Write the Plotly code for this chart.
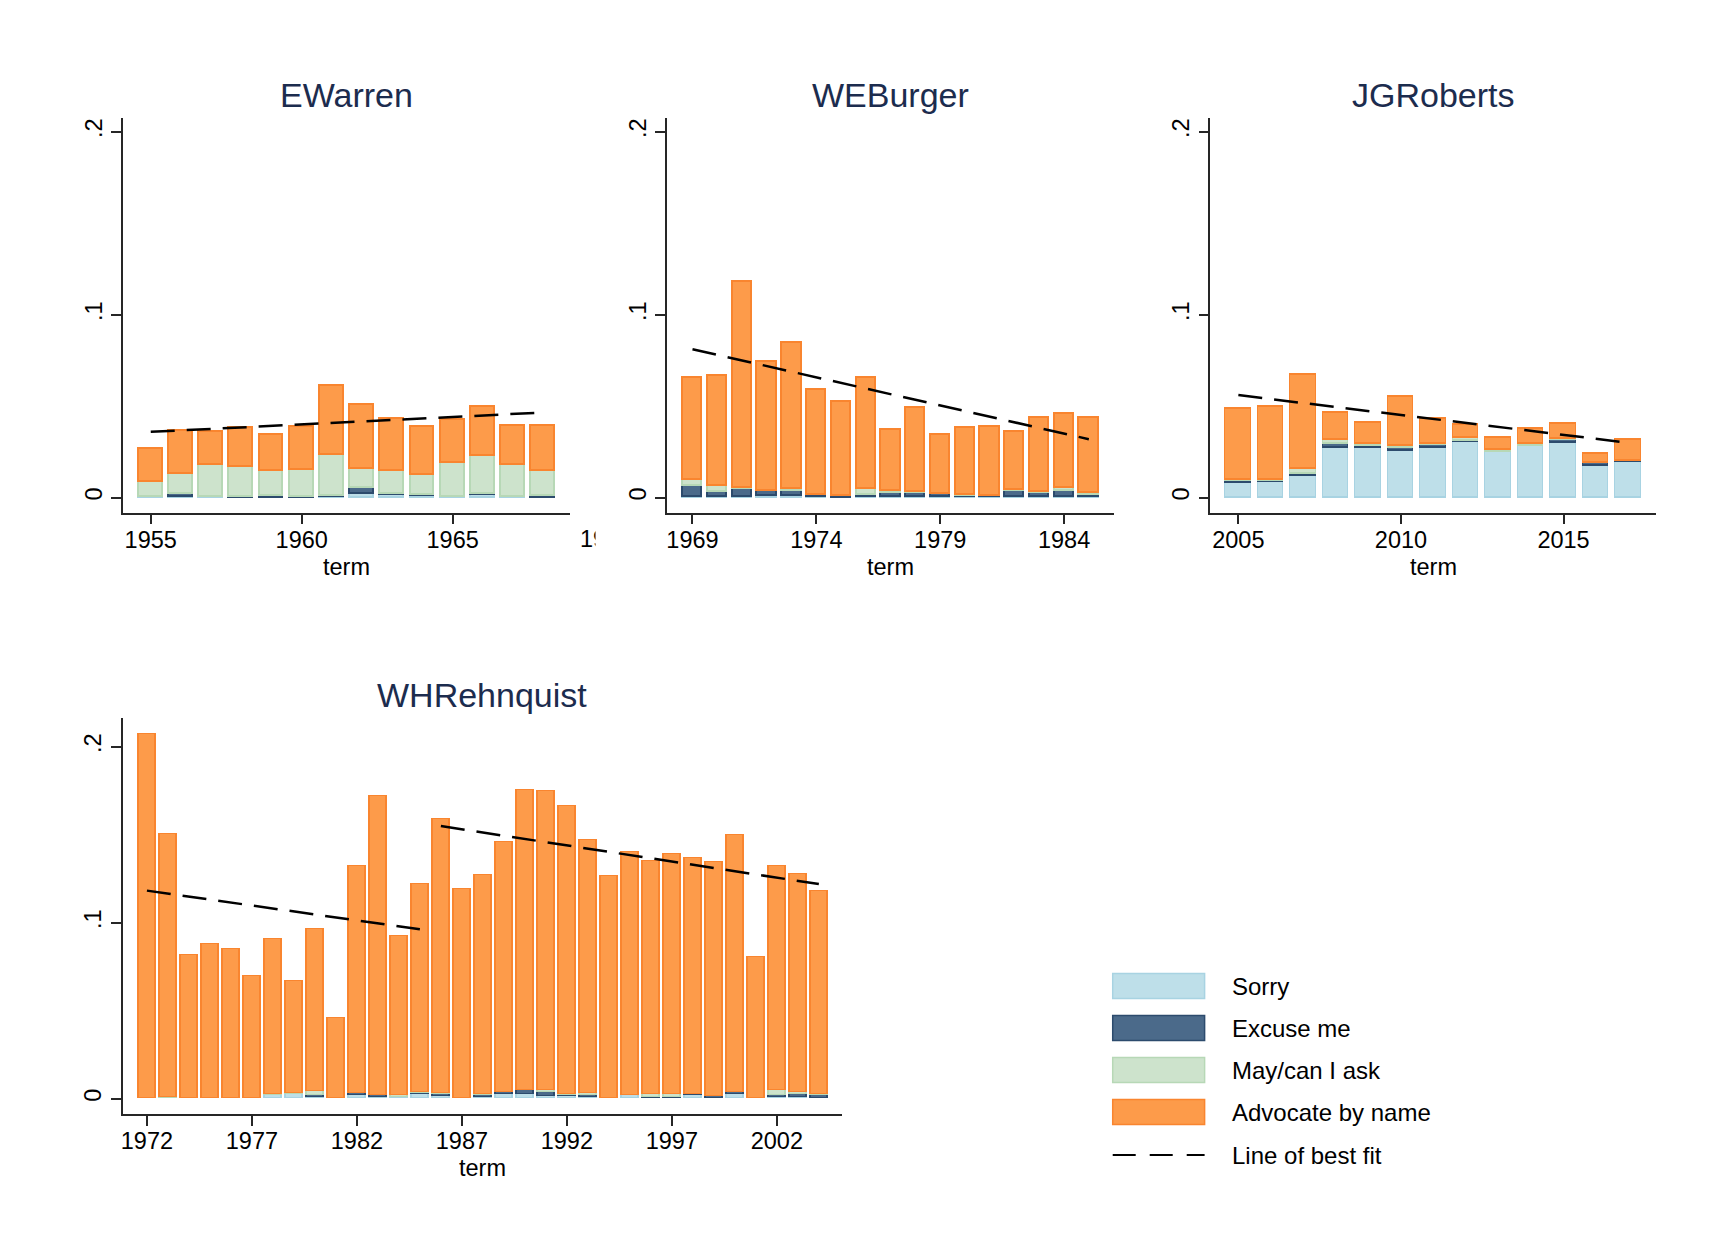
import plotly.graph_objects as go

# page body has an 8 px margin, so the figure is sized to fit inside the window
OFF = 8
W, H = 1732 - 2 * OFF, 1260 - 2 * OFF

# ---------------- data ----------------
series_names = ["Sorry", "Excuse me", "May/can I ask", "Advocate by name"]
fill_colors = ["#bedfe9", "#4b6a8a", "#cde3cc", "#fd9b4a"]
edge_colors = ["#a8d3e2", "#2c4b6d", "#b7d8b6", "#f9852f"]
fit_name = "Line of best fit"

warren_terms = list(range(1955, 1969))
warren_sorry = [0.0005, 0.0004, 0.0002, 0.0000, 0.0000, 0.0000, 0.0003, 0.0020, 0.0015, 0.0009, 0.0002, 0.0015, 0.0003, 0.0000]
warren_excuse = [0.0000, 0.0015, 0.0005, 0.0004, 0.0008, 0.0004, 0.0005, 0.0035, 0.0007, 0.0007, 0.0005, 0.0007, 0.0000, 0.0012]
warren_may = [0.0084, 0.0112, 0.0173, 0.0164, 0.0141, 0.0149, 0.0224, 0.0104, 0.0127, 0.0110, 0.0186, 0.0204, 0.0177, 0.0137]
warren_advocate = [0.0179, 0.0235, 0.0179, 0.0213, 0.0196, 0.0237, 0.0379, 0.0346, 0.0283, 0.0261, 0.0230, 0.0270, 0.0212, 0.0243]
warren_fit_x = [1955, 1968]
warren_fit_y = [0.0359, 0.0465]

burger_terms = list(range(1969, 1986))
burger_sorry = [0.0004, 0.0002, 0.0004, 0.0011, 0.0009, 0.0004, 0.0001, 0.0005, 0.0007, 0.0004, 0.0007, 0.0002, 0.0002, 0.0002, 0.0002, 0.0002, 0.0002]
burger_excuse = [0.0058, 0.0031, 0.0043, 0.0024, 0.0031, 0.0009, 0.0007, 0.0010, 0.0019, 0.0025, 0.0013, 0.0009, 0.0009, 0.0034, 0.0022, 0.0038, 0.0013]
burger_may = [0.0033, 0.0034, 0.0008, 0.0005, 0.0011, 0.0002, 0.0001, 0.0034, 0.0010, 0.0004, 0.0002, 0.0007, 0.0000, 0.0008, 0.0009, 0.0015, 0.0011]
burger_advocate = [0.0561, 0.0600, 0.1126, 0.0704, 0.0797, 0.0576, 0.0514, 0.0607, 0.0336, 0.0457, 0.0319, 0.0363, 0.0376, 0.0315, 0.0405, 0.0404, 0.0412]
burger_fit_x = [1969, 1985]
burger_fit_y = [0.0811, 0.0319]

roberts_terms = list(range(2005, 2018))
roberts_sorry = [0.0080, 0.0084, 0.0119, 0.0272, 0.0275, 0.0257, 0.0272, 0.0303, 0.0252, 0.0283, 0.0299, 0.0173, 0.0195]
roberts_excuse = [0.0010, 0.0007, 0.0012, 0.0020, 0.0011, 0.0013, 0.0016, 0.0007, 0.0000, 0.0000, 0.0018, 0.0015, 0.0007]
roberts_may = [0.0005, 0.0009, 0.0026, 0.0025, 0.0006, 0.0014, 0.0007, 0.0015, 0.0007, 0.0009, 0.0004, 0.0002, 0.0002]
roberts_advocate = [0.0390, 0.0396, 0.0516, 0.0148, 0.0116, 0.0270, 0.0135, 0.0072, 0.0066, 0.0085, 0.0082, 0.0047, 0.0113]
roberts_fit_x = [2005, 2017]
roberts_fit_y = [0.0560, 0.0299]

rehnquist_terms = list(range(1972, 2005))
rehnquist_sorry = [0.0000, 0.0000, 0.0000, 0.0000, 0.0000, 0.0000, 0.0021, 0.0025, 0.0008, 0.0000, 0.0019,
                   0.0009, 0.0009, 0.0023, 0.0015, 0.0000, 0.0006, 0.0027, 0.0027, 0.0011, 0.0011, 0.0006,
                   0.0000, 0.0017, 0.0001, 0.0000, 0.0019, 0.0004, 0.0025, 0.0000, 0.0008, 0.0008, 0.0000]
rehnquist_excuse = [0.0000, 0.0000, 0.0000, 0.0000, 0.0000, 0.0005, 0.0000, 0.0000, 0.0011, 0.0000, 0.0010,
                    0.0009, 0.0000, 0.0008, 0.0011, 0.0000, 0.0011, 0.0008, 0.0023, 0.0023, 0.0009, 0.0011,
                    0.0000, 0.0000, 0.0007, 0.0006, 0.0006, 0.0008, 0.0010, 0.0000, 0.0011, 0.0017, 0.0019]
rehnquist_may = [0.0000, 0.0008, 0.0000, 0.0005, 0.0000, 0.0000, 0.0004, 0.0004, 0.0025, 0.0000, 0.0002,
                 0.0004, 0.0008, 0.0004, 0.0004, 0.0000, 0.0006, 0.0002, 0.0000, 0.0011, 0.0004, 0.0013,
                 0.0000, 0.0000, 0.0015, 0.0019, 0.0000, 0.0000, 0.0000, 0.0000, 0.0030, 0.0011, 0.0004]
rehnquist_advocate = [0.2070, 0.1494, 0.0816, 0.0874, 0.0849, 0.0690, 0.0881, 0.0638, 0.0918, 0.0457, 0.1287,
                      0.1696, 0.0907, 0.1181, 0.1557, 0.1188, 0.1246, 0.1420, 0.1702, 0.1699, 0.1639, 0.1436,
                      0.1264, 0.1383, 0.1328, 0.1365, 0.1341, 0.1329, 0.1463, 0.0805, 0.1273, 0.1236, 0.1155]
rehnquist_fit_x = [1972, 1985, None, 1986, 2004]
rehnquist_fit_y = [0.1182, 0.0962, None, 0.1549, 0.1219]

y_tickvals = [0, 0.1, 0.2]
y_ticktext = ["0", ".1", ".2"]
x_title = "term"

# ---------------- layout helpers (window pixel coords -> paper fractions) ----------------
def px(x):
    return (x - OFF) / W


def py(y):
    return 1 - (y - OFF) / H


panels = [
    dict(title="EWarren", terms=warren_terms,
         vals=[warren_sorry, warren_excuse, warren_may, warren_advocate],
         fx=warren_fit_x, fy=warren_fit_y, box=(121.1, 117.7, 568.5, 512.7),
         xr=[1954.08, 1968.88], yr=[-0.0083, 0.2077], t0=1955, bw=0.79, ty=567),
    dict(title="WEBurger", terms=burger_terms,
         vals=[burger_sorry, burger_excuse, burger_may, burger_advocate],
         fx=burger_fit_x, fy=burger_fit_y, box=(665.5, 117.7, 1113.4, 512.7),
         xr=[1967.96, 1986.02], yr=[-0.0083, 0.2077], t0=1969, bw=0.78, ty=567),
    dict(title="JGRoberts", terms=roberts_terms,
         vals=[roberts_sorry, roberts_excuse, roberts_may, roberts_advocate],
         fx=roberts_fit_x, fy=roberts_fit_y, box=(1209.8, 117.7, 1655.8, 512.7),
         xr=[2004.14, 2017.84], yr=[-0.0083, 0.2077], t0=2005, bw=0.79, ty=567),
    dict(title="WHRehnquist", terms=rehnquist_terms,
         vals=[rehnquist_sorry, rehnquist_excuse, rehnquist_may, rehnquist_advocate],
         fx=rehnquist_fit_x, fy=rehnquist_fit_y, box=(120.7, 718.3, 840.7, 1114.0),
         xr=[1970.84, 2005.09], yr=[-0.0087, 0.2161], t0=1972, bw=0.82, ty=1168),
]

FONT = "Liberation Sans, Arial, Helvetica, sans-serif"
TITLE_COLOR = "#1c2c4e"
AXIS_COLOR = "#262626"
TICK_SIZE = 23.5

fig = go.Figure()
layout = dict(
    width=W, height=H, margin=dict(l=0, r=0, t=0, b=0),
    paper_bgcolor="white", plot_bgcolor="white",
    barmode="stack", bargap=0, showlegend=False,
    font=dict(family=FONT, size=22, color="black"),
)
annotations = []
shapes = []

for i, p in enumerate(panels):
    n = "" if i == 0 else str(i + 1)
    xa, ya = "x" + n, "y" + n
    x0, y0, x1, y1 = p["box"]
    for k in range(4):
        fig.add_trace(go.Bar(
            x=p["terms"], y=p["vals"][k], name=series_names[k], width=p["bw"],
            marker=dict(color=fill_colors[k], line=dict(color=edge_colors[k], width=1.5)),
            xaxis=xa, yaxis=ya, hoverinfo="x+y+name"))
    fig.add_trace(go.Scatter(
        x=p["fx"], y=p["fy"], mode="lines", name=fit_name,
        line=dict(color="black", width=2.5, dash="24px,12px"),
        xaxis=xa, yaxis=ya, cliponaxis=False))
    common = dict(showgrid=False, zeroline=False, showline=True, linecolor=AXIS_COLOR,
                  linewidth=1.5, ticks="outside", ticklen=10, tickwidth=1.5,
                  tickcolor=AXIS_COLOR, mirror=False,
                  tickfont=dict(family=FONT, size=TICK_SIZE, color="black"))
    layout["xaxis" + n] = dict(
        common, domain=[px(x0), px(x1)], range=p["xr"], anchor=ya,
        tickmode="linear", tick0=p["t0"], dtick=5, ticklabelstandoff=-5)
    layout["yaxis" + n] = dict(
        common, domain=[py(y1), py(y0)], range=p["yr"], anchor=xa,
        tickmode="array", tickvals=y_tickvals, ticktext=y_ticktext, tickangle=-90)
    annotations.append(dict(
        text=p["title"], xref="paper", yref="paper", x=px((x0 + x1) / 2),
        y=py(y0 - 23), xanchor="center", yanchor="middle", showarrow=False,
        font=dict(family=FONT, size=34, color=TITLE_COLOR)))
    annotations.append(dict(
        text=x_title, xref="paper", yref="paper", x=px((x0 + x1) / 2),
        y=py(p["ty"]), xanchor="center", yanchor="middle", showarrow=False,
        font=dict(family=FONT, size=TICK_SIZE, color="black")))

# partly hidden 1970 label of the first panel (as in the source graphic)
annotations.append(dict(text="19", xref="paper", yref="paper", x=px(576.5), y=py(539),
                        xanchor="left", yanchor="middle", showarrow=False,
                        font=dict(family=FONT, size=TICK_SIZE, color="black")))
annotations.append(dict(text=" ", xref="paper", yref="paper", x=px(593.5), y=py(539),
                        xanchor="left", yanchor="middle", showarrow=False,
                        width=16, height=32, bgcolor="white", borderpad=0,
                        font=dict(family=FONT, size=TICK_SIZE, color="white")))

# legend (keys + labels)
lx0, lx1, ltext = 1112, 1204, 1229
lrows = [986, 1028, 1070, 1112, 1155]
for k in range(4):
    yc = lrows[k]
    shapes.append(dict(type="rect", xref="paper", yref="paper",
                       x0=px(lx0), x1=px(lx1), y0=py(yc + 12.5), y1=py(yc - 12.5),
                       fillcolor=fill_colors[k], line=dict(color=edge_colors[k], width=1.5)))
    annotations.append(dict(text=series_names[k], xref="paper", yref="paper",
                            x=px(ltext), y=py(yc), xanchor="left", yanchor="middle",
                            showarrow=False, font=dict(family=FONT, size=24, color="black")))
shapes.append(dict(type="line", xref="paper", yref="paper",
                   x0=px(lx0), x1=px(lx1), y0=py(lrows[4]), y1=py(lrows[4]),
                   line=dict(color="black", width=2, dash="23px,14px")))
annotations.append(dict(text=fit_name, xref="paper", yref="paper",
                        x=px(ltext), y=py(lrows[4]), xanchor="left", yanchor="middle",
                        showarrow=False, font=dict(family=FONT, size=24, color="black")))

layout["annotations"] = annotations
layout["shapes"] = shapes
fig.update_layout(**layout)
fig.write_html("out.html")
